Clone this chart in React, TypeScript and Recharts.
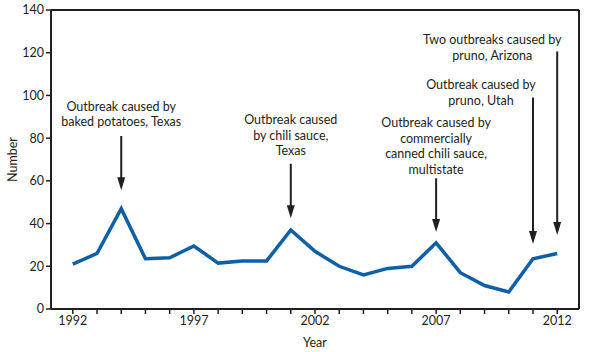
import React from 'react';
import { LineChart, Line, XAxis, YAxis, ReferenceLine } from 'recharts';

const years = [1992, 1993, 1994, 1995, 1996, 1997, 1998, 1999, 2000, 2001, 2002, 2003, 2004, 2005, 2006, 2007, 2008, 2009, 2010, 2011, 2012];
const counts = [21, 26, 47, 23.5, 24, 29.5, 21.5, 22.5, 22.5, 37, 27, 20, 16, 19, 20, 31, 17, 11, 8, 23.5, 26];
const yTicks = [0, 20, 40, 60, 80, 100, 120, 140];

const annYears = [1994, 2001, 2007, 2011, 2012];
const annTop = [81, 68, 61.2, 99, 120.6];
const annTip = [55.6, 42.5, 36, 30.4, 34.6];
const annText = [
  ['Outbreak caused by', 'baked potatoes, Texas'],
  ['Outbreak caused', 'by chili sauce,', 'Texas'],
  ['Outbreak caused by', 'commercially', 'canned chili sauce,', 'multistate'],
  ['Outbreak caused by', 'pruno, Utah'],
  ['Two outbreaks caused by', 'pruno, Arizona'],
];
const annDx = [0, 0, 0, -52, -65];
const annGap = [14, 13, 9, -3, -4];

const data = years.map((y, i) => ({ year: y, count: counts[i] }));

const FONT = 'Lato, "Open Sans", sans-serif';
const INK = '#231f20';
const BLUE = '#0d5fa6';

const makeArrow = (idx: number) => (p: any) => {
  const { x1, y1, x2, y2 } = p;
  const lines = annText[idx];
  const lh = 15.5;
  const n = lines.length;
  const tx = x1 + annDx[idx];
  const lastY = y1 - annGap[idx];
  return (
    <g>
      <line x1={x1} y1={y1} x2={x2} y2={y2 - 9} stroke={INK} strokeWidth={2} />
      <polygon points={`${x2 - 4},${y2 - 13} ${x2 + 4},${y2 - 13} ${x2},${y2}`} fill={INK} />
      {lines.map((t, i) => (
        <text key={i} x={tx} y={lastY - (n - 1 - i) * lh} dy="0.35em" textAnchor="middle" fontFamily={FONT} fontSize={12.5} fill={INK}>
          {t}
        </text>
      ))}
    </g>
  );
};

export default function App() {
  return (
    <div style={{ position: 'absolute', left: 0, top: 0, background: '#fff' }}>
      <LineChart width={596} height={352} data={data} margin={{ top: 10, right: 17, bottom: 13, left: 0 }}>
        <XAxis
          dataKey="year"
          type="number"
          domain={[1991.1, 2012.9]}
          ticks={years}
          interval={0}
          tickFormatter={(v: number) => (v % 5 === 2 ? String(v) : '')}
          height={30}
          tickSize={5}
          axisLine={{ stroke: INK, strokeWidth: 2 }}
          tickLine={{ stroke: INK, strokeWidth: 1.5 }}
          tick={{ fill: INK, fontSize: 12.5, fontFamily: FONT }}
          label={{
            content: ({ viewBox }: any) => (
              <text x={viewBox.x + viewBox.width / 2} y={viewBox.y + 34} dy="0.35em" textAnchor="middle" fontFamily={FONT} fontSize={12.5} fill={INK}>
                Year
              </text>
            ),
          }}
        />
        <YAxis
          type="number"
          domain={[0, 140]}
          ticks={yTicks}
          interval={0}
          width={51}
          tickSize={5}
          axisLine={{ stroke: INK, strokeWidth: 2 }}
          tickLine={{ stroke: INK, strokeWidth: 1.5 }}
          tick={{ fill: INK, fontSize: 12.5, fontFamily: FONT }}
          label={{
            content: ({ viewBox }: any) => (
              <text x={13} y={viewBox.y + viewBox.height / 2} dy="0.35em" textAnchor="middle" transform={`rotate(-90 13 ${viewBox.y + viewBox.height / 2})`} fontFamily={FONT} fontSize={12.5} fill={INK}>
                Number
              </text>
            ),
          }}
        />
        <ReferenceLine y={140} stroke={INK} strokeWidth={2} />
        <ReferenceLine x={2012.9} stroke={INK} strokeWidth={2} />
        {annYears.map((y, i) => (
          <ReferenceLine
            key={y}
            segment={[{ x: y, y: annTop[i] }, { x: y, y: annTip[i] }]}
            shape={makeArrow(i)}
          />
        ))}
        <Line type="linear" dataKey="count" stroke={BLUE} strokeWidth={3.5} dot={false} isAnimationActive={false} />
      </LineChart>
    </div>
  );
}
